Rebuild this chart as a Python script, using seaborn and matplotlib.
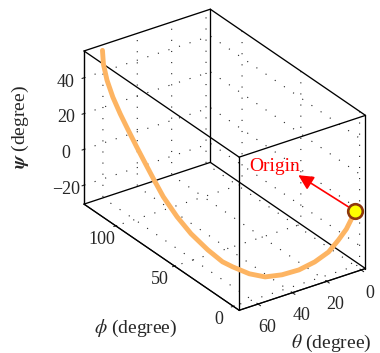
import itertools
import matplotlib
matplotlib.use("Agg")
import matplotlib.pyplot as plt
import seaborn as sns
from mpl_toolkits.mplot3d import proj3d

# trajectory (degrees)
theta = [0, 4.5, 8.8, 14.4, 20.4, 28.1, 35.5, 42.3, 46.7, 50.3, 52.4, 54.4,
         55.0, 55.6, 56.4, 57.1, 57.8, 58.6, 59.4, 60.2, 61.0, 61.8, 62.5, 62.8]
phi = [0, 1.0, 1.5, 1.7, 4.7, 6.9, 10.5, 14.9, 21.9, 30.9, 36.4, 46.0,
       59.4, 70.3, 80.9, 87.8, 94.0, 100.3, 106.4, 111.9, 117.1, 120.9, 122.9, 123.3]
psi = [0, -9, -14, -19, -24, -27, -29, -30, -30, -29, -28, -25,
       -21.8, -17.1, -10.4, -3.8, 2.6, 9.4, 16.4, 23.1, 30.5, 38.5, 46.7, 54.4]

origin = (0, 0, 0)

theta_ticks = [0, 20, 40, 60]
phi_ticks = [0, 50, 100]
psi_ticks = [-20, 0, 20, 40]

theta_lim = (71, -2.5)   # reversed axis
phi_lim = (-5, 127)
psi_lim = (-30.6, 55)

sns.set_style("white")
plt.rcParams["font.family"] = ["Liberation Serif", "DejaVu Serif"]
plt.rcParams["mathtext.fontset"] = "stix"

fig = plt.figure(figsize=(3.8, 3.53), dpi=100)
ax = fig.add_axes([0.1455, 0.0674, 0.8684, 0.9348], projection="3d", proj_type="ortho")
ax.computed_zorder = False
ax.view_init(elev=28.4, azim=235.2)
ax.set_box_aspect((154.7, 273.4, 175.1), zoom=1.052)

# full box outline
corners = list(itertools.product(theta_lim, phi_lim, psi_lim))
for a, b in itertools.combinations(corners, 2):
    if sum(p != q for p, q in zip(a, b)) == 1:
        ax.plot(*zip(a, b), color="black", lw=0.95, zorder=1)

ax.plot(theta, phi, psi, color="#FDB462", lw=3.5, solid_capstyle="round", zorder=2)
ax.scatter([origin[0]], [origin[1]], [origin[2]], s=110, color="#FFFF00",
           edgecolors="#8E380C", linewidths=1.9, depthshade=False, zorder=3)

ax.set_xlim(*theta_lim, view_margin=0)
ax.set_ylim(*phi_lim, view_margin=0)
ax.set_zlim(*psi_lim, view_margin=0)
ax.set_xticks(theta_ticks)
ax.set_yticks(phi_ticks)
ax.set_zticks(psi_ticks)
ax.tick_params(labelsize=13, pad=0)
ax.tick_params(axis="x", pad=-1)
ax.tick_params(axis="y", pad=6)
plt.setp(ax.get_yticklabels(), ha="center", va="bottom")

for axis in (ax.xaxis, ax.yaxis, ax.zaxis):
    axis.set_pane_color((1, 1, 1, 0))
    axis._axinfo["grid"].update(color="#222222", linewidth=0.8, linestyle=(0, (1, 9)))
    axis._axinfo["axisline"]["linewidth"] = 0.95
    axis._axinfo["tick"]["linewidth"] = {True: 0.8, False: 0.6}

# annotation pointing away from the origin
ox, oy, _ = proj3d.proj_transform(*origin, ax.get_proj())
ax.annotate("", xy=(ox, oy), xytext=(-57, 36), textcoords="offset pixels",
            arrowprops=dict(arrowstyle="<|-, head_length=0.9, head_width=0.45",
                            color="red", lw=1.2, shrinkA=0, shrinkB=6))
ax.annotate("Origin", xy=(ox, oy), xytext=(-81, 45), textcoords="offset pixels",
            color="red", fontsize=14, ha="center", va="center")

fig.text(331 / 380, 1 - 343 / 353, r"$\theta$ (degree)", fontsize=14, ha="center", va="center")
fig.text(136 / 380, 1 - 328 / 353, r"$\phi$ (degree)", fontsize=14, ha="center", va="center")
fig.text(20 / 380, 1 - 127 / 353, r"$\mathbfit{\psi}$ (degree)", fontsize=14,
         ha="center", va="center", rotation=90)

fig.savefig("out.png", dpi=100, facecolor="white")
